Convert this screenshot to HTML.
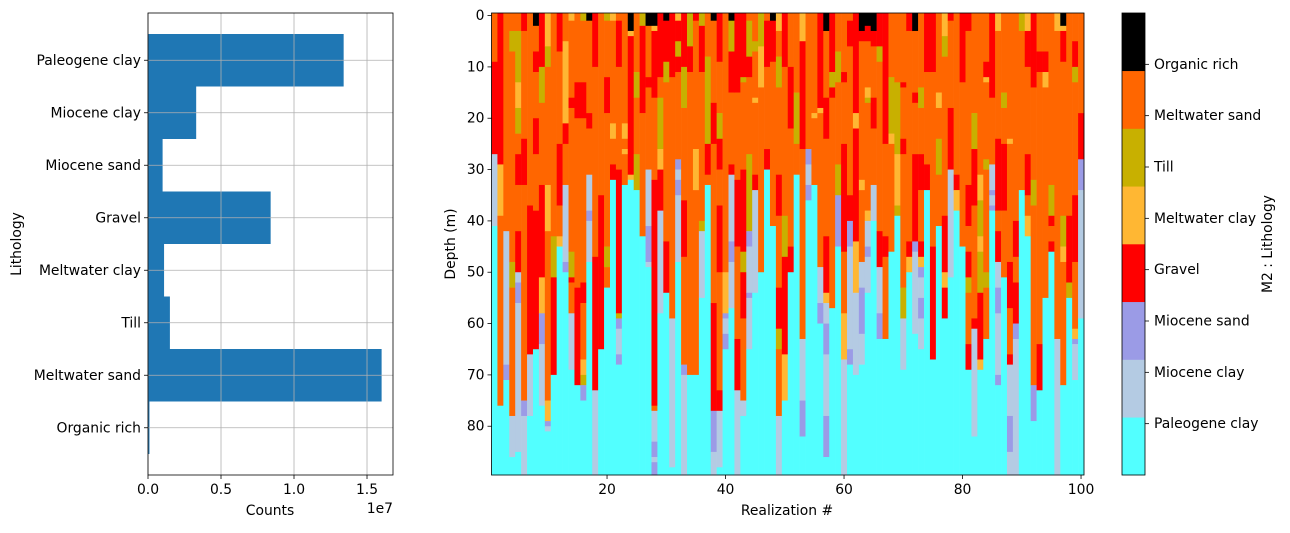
<!DOCTYPE html>
<html><head><meta charset="utf-8">
<style>
html,body{margin:0;padding:0;background:#fff;}
svg text{font-family:"DejaVu Sans","Liberation Sans",sans-serif;font-size:13.9px;fill:#000;}
</style></head>
<body>
<svg id="fig" width="1290" height="528" xmlns="http://www.w3.org/2000/svg">
  <g id="left"></g>
  <g id="right"></g>
  <g id="cbar"></g>
</svg>
<script>
// ---------- data ----------
const categories = ["Organic rich","Meltwater sand","Till","Meltwater clay","Gravel","Miocene sand","Miocene clay","Paleogene clay"];
const counts = [0.1e6, 16.0e6, 1.5e6, 1.1e6, 8.4e6, 1.0e6, 3.3e6, 13.4e6];
const countTicks = [0, 0.5e7, 1.0e7, 1.5e7];
const countTickLabels = ["0.0","0.5","1.0","1.5"];
const depthTicks = [0,10,20,30,40,50,60,70,80];
const realTicks = [20,40,60,80,100];
const litNames = ["Paleogene clay","Miocene clay","Miocene sand","Gravel","Meltwater clay","Till","Meltwater sand","Organic rich"];
const litColors = ["#52ffff","#b4cbe3","#9b9be6","#ff0000","#ffb733","#c8b000","#ff6600","#000000"];
// each realization: "code bottomDepth" segments, top to bottom; code without depth fills to the bottom
const columns = [
"6 9,3 27,1 41,0","3 29,4 39,6 76,0","6 42,1 68,2 71,0","6 3,5 7,6 48,5 53,6 78,1 86,0",
"6 3,5 13,4 18,5 23,6 27,3 33,6 42,3 50,1 52,2 56,1 85,0","3 3,6 24,3 33,6 75,2 78,1 90","6 37,3 66,1 78,0",
"7 2,6 7,3 11,6 20,3 27,6 38,3 65,0","3 10,5 17,6 33,3 51,4 58,2 64,1 76,0","4 6,5 10,6 33,4 42,6 75,4 79,2 80,1 81,0",
"6 43,5 51,3 70,0","3 7,6 25,3 37,6 43,4 45,0","6 5,4 21,3 25,6 33,1 48,2 50,0","4 1,6 16,3 18,6 46,5 51,3 52,6 58,1 69,0",
"6 13,3 20,6 53,3 72,0","5 1,6 13,3 20,6 52,3 56,6 67,4 70,5 72,2 75,0","7 1,6 19,3 22,6 31,1 38,2 40,1 48,0",
"3 10,6 47,3 73,1 90","6 35,3 65,0","5 1,6 12,3 19,6 45,5 49,6 53,0","4 1,6 21,4 24,6 29,3 32,0",
"6 1,3 10,6 30,3 58,5 59,2 61,1 66,2 68,0","6 21,4 24,6 26,4 27,6 33,0","7 3,4 4,3 31,4 32,0","6 11,5 16,6 27,5 34,0",
"5 2,3 19,6 43,0","7 2,6 12,3 14,6 30,1 41,2 48,1 49,0","7 2,4 3,3 16,6 32,3 76,6 77,1 83,2 86,1 87,2 90",
"3 12,6 16,5 26,4 30,3 38,1 58,0","7 1,3 9,5 13,6 44,3 54,0","3 12,6 59,1 88,0","4 1,3 5,5 8,3 11,6 28,2 30,1 32,2 35,1 48,0",
"3 10,5 18,6 36,3 47,6 68,2 70,1 90","5 6,3 11,6 70,0","3 1,6 26,4 34,6 70,0","5 2,3 11,6 40,5 42,1 55,0",
"6 8,5 25,3 31,6 33,0","7 1,6 17,3 25,6 56,3 77,2 85,1 90","3 9,6 19,5 24,3 30,6 37,3 50,6 73,3 77,1 88,0",
"6 50,4 58,2 59,1 62,2 65,0","7 1,5 7,3 15,6 29,3 31,1 44,2 48,1 57,0","3 15,6 32,3 45,6 63,3 73,1 90",
"3 12,5 13,6 30,3 46,5 50,3 59,6 75,1 78,0","6 1,5 8,3 12,6 27,5 42,2 45,1 54,2 55,1 65,0",
"6 5,5 7,6 16,4 17,6 31,3 34,1 54,0","5 6,4 14,6 50,0","6 1,3 10,6 26,3 30,0","7 1,3 9,6 41,0",
"4 3,6 8,5 14,6 31,3 39,6 53,3 61,5 65,6 78,1 90","3 10,6 39,5 47,3 66,4 75,0",
"6 10,3 22,6 45,3 50,0","6 15,5 25,6 31,0","4 5,3 26,6 63,1 75,2 82,0","6 26,2 29,1 33,2 36,0","6 19,4 20,6 33,0",
"3 18,4 19,6 49,1 56,2 60,0","7 3,6 16,3 24,6 43,3 54,4 56,1 60,2 66,1 78,2 86,0","3 11,5 14,3 16,6 57,0",
"6 7,5 13,6 29,5 35,2 45,0","6 11,3 13,6 25,3 46,6 58,4 67,1 90","6 1,3 6,6 35,3 40,2 45,1 65,2 68,0",
"3 19,4 22,3 44,4 54,1 70,0","7 3,3 5,6 32,4 34,6 48,1 53,2 62,1 68,0","7 2,3 5,6 14,4 16,5 17,6 38,4 40,1 45,2 47,1 54,0",
"7 3,3 6,6 16,3 22,6 33,1 40,0","3 6,5 9,6 42,3 49,1 58,2 63,0","3 25,6 43,3 47,6 63,0",
"6 12,5 23,4 25,6 46,0","6 13,5 27,4 37,5 39,0","6 13,3 14,6 24,3 27,6 53,5 59,1 69,0","3 3,6 44,3 47,4 50,0",
"7 3,6 15,3 17,6 27,3 44,2 46,1 62,0","6 14,5 18,6 27,3 34,6 44,3 47,4 49,2 51,1 55,2 59,1 65,0","3 11,6 29,3 34,0",
"3 11,6 45,3 67,0","6 15,4 18,6 24,5 31,6 41,0","4 4,5 8,6 39,3 50,4 53,3 59,0","3 1,6 18,3 30,1 51,0",
"6 31,3 34,4 38,0","3 13,6 45,0","3 3,6 33,3 41,6 46,3 51,5 54,6 64,3 69,0","6 19,5 26,3 37,6 59,3 61,1 82,0",
"6 31,4 36,5 43,4 46,5 54,3 67,4 69,0","6 9,3 12,4 13,6 28,5 30,6 50,5 53,6 63,0","3 16,6 29,1 34,2 35,1 37,2 38,0",
"4 3,6 24,3 38,6 42,3 48,1 53,2 58,1 70,2 72,0","6 15,5 18,6 25,3 38,6 51,0","6 24,4 25,6 48,3 57,6 66,3 68,1 78,2 85,1 90",
"6 40,3 47,6 52,3 60,2 63,1 90","5 3,6 34,0","4 3,3 10,6 27,3 35,6 39,4 43,0","3 14,6 32,5 37,6 72,2 79,0",
"6 7,3 11,6 64,3 73,0","6 7,3 11,4 14,6 55,0","6 33,5 39,3 41,6 44,3 46,0","4 3,6 63,1 90",
"7 2,4 3,3 9,6 39,5 45,4 48,6 72,0","6 39,3 52,5 55,0","6 5,3 10,5 13,6 35,3 48,6 61,4 63,2 64,1 71,0","6 19,3 28,2 34,1 59,0"
];

const NS="http://www.w3.org/2000/svg";
function mk(parent,tag,attrs,text){const e=document.createElementNS(NS,tag);for(const k in attrs)e.setAttribute(k,attrs[k]);if(text!==undefined)e.textContent=text;parent.appendChild(e);return e;}

// ---------- left bar chart ----------
const L=document.getElementById('left');
const lx0=148,lx1=393,ly0=13,ly1=475;
const xMaxC=16.78e6;
const xC=v=>lx0+v/xMaxC*(lx1-lx0);
const yC=i=>ly1-(i+0.9)/8.8*(ly1-ly0);
const step=(ly1-ly0)/8.8;
categories.forEach((c,i)=>{
  const r=mk(L,'rect',{x:lx0,y:yC(i)-step/2,width:xC(counts[i])-lx0,height:step,fill:'#1f77b4'});
  
  
});
countTicks.forEach((t,i)=>{
  const x=xC(t);
  const g=mk(L,'line',{x1:x,x2:x,y1:ly0,y2:ly1,stroke:'#b0b0b0','stroke-width':0.8});
  
  
  mk(L,'line',{x1:x,x2:x,y1:ly1,y2:ly1+4,stroke:'#000','stroke-width':0.8});
  const tl=mk(L,'text',{x:x,y:ly1+19,'text-anchor':'middle'},countTickLabels[i]);
  
  
});
categories.forEach((c,i)=>{
  const y=yC(i);
  const g=mk(L,'line',{x1:lx0,x2:lx1,y1:y,y2:y,stroke:'#b0b0b0','stroke-width':0.8});
  
  
  mk(L,'line',{x1:lx0-4,x2:lx0,y1:y,y2:y,stroke:'#000','stroke-width':0.8});
  const tl=mk(L,'text',{x:lx0-7,y:y+4.5,'text-anchor':'end'},c);
  
  
});
mk(L,'rect',{x:lx0,y:ly0,width:lx1-lx0,height:ly1-ly0,fill:'none',stroke:'#000','stroke-width':0.8});
let t=mk(L,'text',{x:270,y:515,'text-anchor':'middle'},'Counts');

t=mk(L,'text',{x:393,y:513,'text-anchor':'end'},'1e7');

t=mk(L,'text',{x:21,y:244,'text-anchor':'middle',transform:'rotate(-90 21 244)'},'Lithology');


// ---------- heatmap ----------
const R=document.getElementById('right');
const rx0=491.5,rx1=1084,ry0=13,ry1=475;
const xR=v=>rx0+(v-0.5)/100*(rx1-rx0);
const yD=d=>ry0+(d+0.5)/90*(ry1-ry0);
const cw=(rx1-rx0)/100;
columns.forEach((col,i)=>{
  let top=-0.5;
  col.split(',').forEach(seg=>{
    const p=seg.trim().split(' ');
    const code=+p[0];
    const bot=p.length>1?Math.min(+p[1],89.5):89.5;
    if(bot>top){
      const r=mk(R,'rect',{x:xR(i+0.5),y:yD(top),width:cw+0.3,height:yD(bot)-yD(top)+0.3,fill:litColors[code]});
      
      
    }
    top=bot;
  });
  if(top<89.5){
    const r=mk(R,'rect',{x:xR(i+0.5),y:yD(top),width:cw+0.3,height:yD(89.5)-yD(top),fill:litColors[0]});
    
    
  }
});
mk(R,'rect',{x:rx0,y:ry0,width:rx1-rx0,height:ry1-ry0,fill:'none',stroke:'#000','stroke-width':0.8});
realTicks.forEach(v=>{
  const x=xR(v);
  mk(R,'line',{x1:x,x2:x,y1:ry1,y2:ry1+4,stroke:'#000','stroke-width':0.8});
  const tl=mk(R,'text',{x:x,y:ry1+19,'text-anchor':'middle'},String(v));
  
  
});
depthTicks.forEach(v=>{
  const y=yD(v);
  mk(R,'line',{x1:rx0-4,x2:rx0,y1:y,y2:y,stroke:'#000','stroke-width':0.8});
  const tl=mk(R,'text',{x:rx0-7,y:y+4.5,'text-anchor':'end'},String(v));
  
  
});
t=mk(R,'text',{x:787,y:515,'text-anchor':'middle'},'Realization #');

t=mk(R,'text',{x:455,y:244,'text-anchor':'middle',transform:'rotate(-90 455 244)'},'Depth (m)');


// ---------- colorbar ----------
const C=document.getElementById('cbar');
const cx0=1122,cx1=1145,cy0=13,cy1=475;
const segH=(cy1-cy0)/8;
litColors.forEach((c,i)=>{
  const r=mk(C,'rect',{x:cx0,y:cy1-(i+1)*segH,width:cx1-cx0,height:segH+0.3,fill:c});
  
  
});
mk(C,'rect',{x:cx0,y:cy0,width:cx1-cx0,height:cy1-cy0,fill:'none',stroke:'#000','stroke-width':0.8});
litNames.forEach((n,i)=>{
  const y=cy1-(i+1)*(cy1-cy0)/9;
  mk(C,'line',{x1:cx1,x2:cx1+4,y1:y,y2:y,stroke:'#000','stroke-width':0.8});
  const tl=mk(C,'text',{x:cx1+9,y:y+4.5},n);
  
  
});
t=mk(C,'text',{x:1272,y:244,'text-anchor':'middle',transform:'rotate(-90 1272 244)'},'M2 : Lithology');

</script>
</body></html>
